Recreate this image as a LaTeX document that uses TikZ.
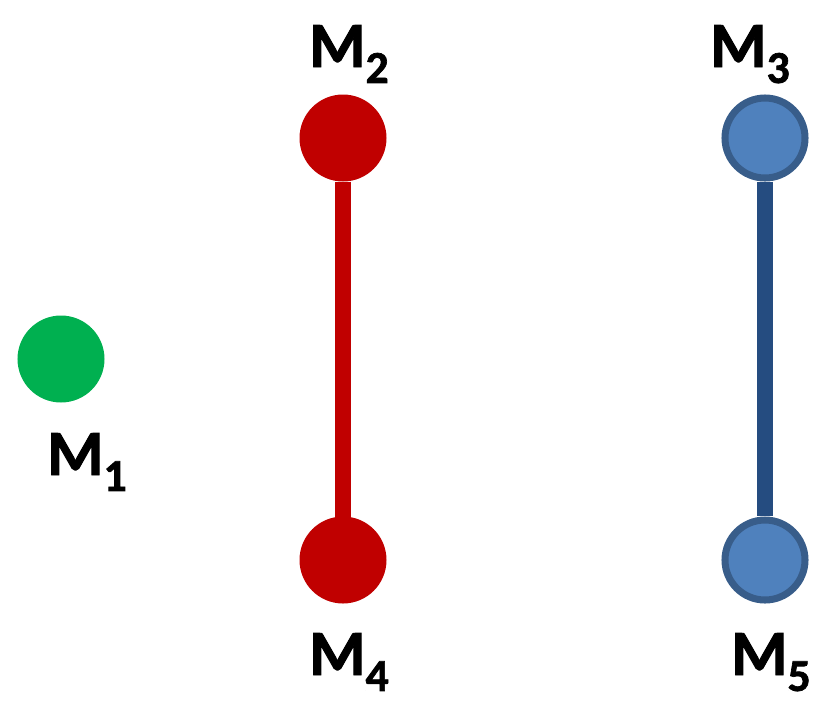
\documentclass[tikz,border=0pt]{standalone}
\usepackage{fontspec}
\setmainfont{Carlito}[BoldFeatures={FakeBold=1.5}]
\usetikzlibrary{positioning}
\definecolor{mgreen}{HTML}{00B050}
\definecolor{mred}{HTML}{C00000}
\definecolor{mblue}{HTML}{4F81BD}
\definecolor{mblueedge}{HTML}{385D8A}
\definecolor{mbluebar}{HTML}{254C80}
\newcommand{\mlab}[1]{\bfseries M\raisebox{-13.6pt}{\fontsize{39}{44}\selectfont #1}}

\begin{document}
\begin{tikzpicture}[x=0.03cm, y=-0.03cm,
  dotgreen/.style={circle, fill=mgreen, minimum size=2.61cm, inner sep=0},
  dotred/.style={circle, fill=mred, minimum size=2.61cm, inner sep=0, outer sep=0},
  dotblue/.style={circle, fill=mblue, draw=mblueedge, line width=6pt, minimum size=2.4cm, inner sep=0},
  bar/.style={line width=0.46cm}
]
\useasboundingbox (0,0) rectangle (832,714);

% the masses
\node[dotgreen] (m1) at (61,359) {};
\node[dotred] (m2) at (343,138) {};
\node[dotred] (m4) at (343,560) {};
\node[dotblue] (m3) at (765,138) {};
\node[dotblue] (m5) at (765,560) {};

% the bars
\draw[bar, mred] (m2.south) -- (m4.north);
\draw[bar, mbluebar] (m3.south) -- (m5.north);

% Labels
\node[anchor=base west, inner sep=0, font=\fontsize{55}{60}\selectfont] (lm1) at (47,475) {\mlab{1}};
\node[anchor=base west, inner sep=0, font=\fontsize{55}{60}\selectfont] (lm2) at (309,67) {\mlab{2}};
\node[anchor=base west, inner sep=0, font=\fontsize{55}{60}\selectfont] (lm3) at (710,67) {\mlab{3}};
\node[anchor=base west, inner sep=0, font=\fontsize{55}{60}\selectfont] (lm4) at (309,675) {\mlab{4}};
\node[anchor=base west, inner sep=0, font=\fontsize{55}{60}\selectfont] (lm5) at (731,675) {\mlab{5}};

\end{tikzpicture}
\end{document}
